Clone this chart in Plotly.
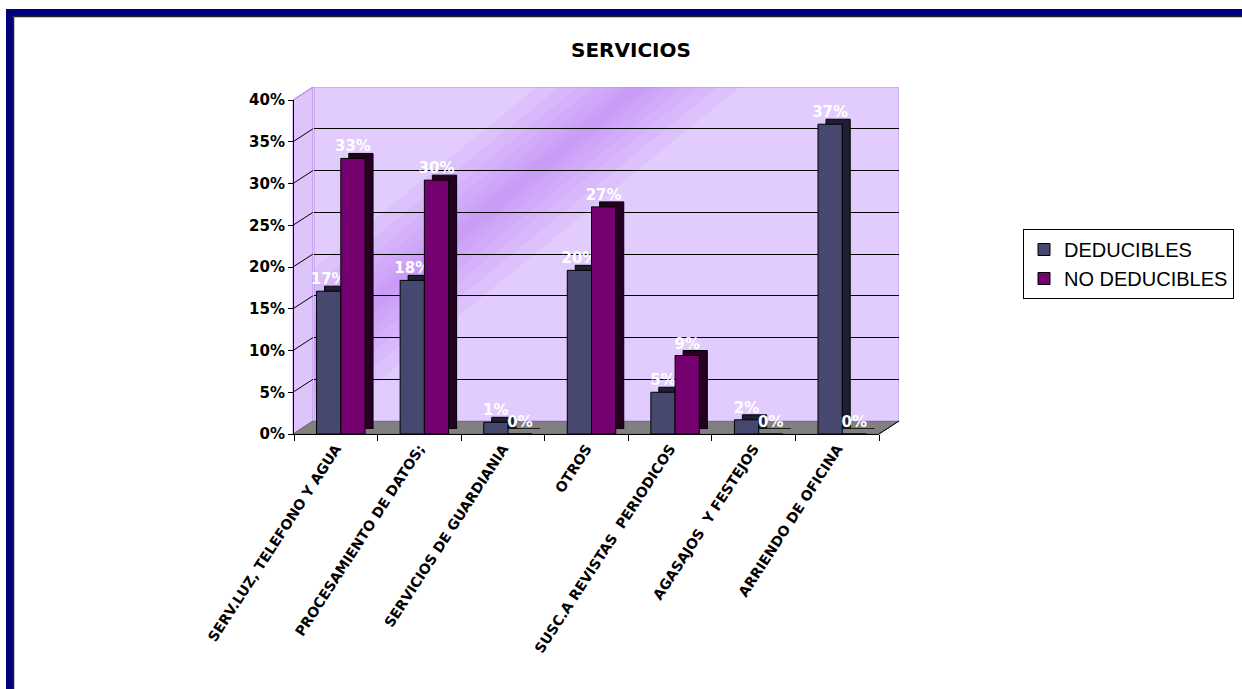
import math
import plotly.graph_objects as go

# ---------------- data ----------------
categories = [
    "SERV.LUZ, TELEFONO Y AGUA",
    "PROCESAMIENTO DE DATOS;",
    "SERVICIOS DE GUARDIANIA",
    "OTROS",
    "SUSC.A REVISTAS  PERIODICOS",
    "AGASAJOS  Y FESTEJOS",
    "ARRIENDO DE OFICINA",
]
deducibles = [0.171, 0.184, 0.014, 0.196, 0.050, 0.017, 0.371]
no_deducibles = [0.330, 0.304, 0.0, 0.272, 0.094, 0.0, 0.0]
series_names = ["DEDUCIBLES", "NO DEDUCIBLES"]
y_ticks = [0, 0.05, 0.10, 0.15, 0.20, 0.25, 0.30, 0.35, 0.40]
title_text = "SERVICIOS"

# ---------------- geometry / style ----------------
W, H = 1242, 689
def px(x):
    return x / W
def py(y):
    return 1 - y / H

C_BLUE = "#46486F"
C_PURP = "#750070"
S_BLUE = "#1F1F33"
S_PURP = "#260022"
WALL = "#E2CBFD"
BOLD = "DejaVu Sans"

bar_w = 0.29
offsets = [-0.23, 0.06]

# front axes (C) domain in pixels
FX0, FX1, FY0, FY1 = 294, 879, 434, 100
# depth shift of the back wall
DX, DY = 20, 13
# shadow (bar side) shift
SX, SY = 8, 5

fig = go.Figure()

# invisible trace to create the back wall subplot (A)
fig.add_trace(go.Scatter(x=[0, 1], y=[0, 40], mode="markers", marker=dict(opacity=0),
                         hoverinfo="skip", showlegend=False, xaxis="x", yaxis="y"))

# shadow bars (B) -> pseudo 3D depth
for vals, col, off in [(deducibles, S_BLUE, offsets[0]), (no_deducibles, S_PURP, offsets[1])]:
    fig.add_trace(go.Bar(x=categories, y=vals, width=bar_w, offset=off,
                         marker=dict(color=col, line=dict(color="black", width=1)),
                         showlegend=False, hoverinfo="skip", xaxis="x2", yaxis="y2"))

# front bars (C)
for name, vals, col, off in [(series_names[0], deducibles, C_BLUE, offsets[0]),
                             (series_names[1], no_deducibles, C_PURP, offsets[1])]:
    fig.add_trace(go.Bar(x=categories, y=vals, width=bar_w, offset=off, name=name,
                         marker=dict(color=col, line=dict(color="black", width=1)),
                         texttemplate="%{y:.0%}", textposition="outside",
                         constraintext="none", cliponaxis=False,
                         textfont=dict(family=BOLD, size=15, color="white", weight="bold"),
                         xaxis="x3", yaxis="y3"))

shapes = []
# back wall + diagonal light streak (subplot A, clipped)
shapes.append(dict(type="rect", xref="x", yref="y", x0=0, x1=1, y0=0, y1=40,
                   fillcolor=WALL, line=dict(color="#B892EE", width=1), layer="below"))
wall_w = (FX1 + DX) - (FX0 + DX)
ppu = (FY0 - FY1) / 40.0
dxl, dyl = 317.0, 258.0
nrm = math.hypot(dxl, dyl)
d = (dxl / nrm, dyl / nrm)
n = (-d[1], d[0])
c0 = (0.0, 70.0)
for w in [64, 50, 38, 28, 19, 11, 5]:
    pts = []
    for s, sgn in [(-500, 1), (900, 1), (900, -1), (-500, -1)]:
        pxp = c0[0] + s * d[0] + sgn * w * n[0]
        pyp = c0[1] + s * d[1] + sgn * w * n[1]
        pts.append((pxp / wall_w, pyp / ppu))
    path = "M " + " L ".join(f"{a:.4f},{b:.4f}" for a, b in pts) + " Z"
    shapes.append(dict(type="path", xref="x", yref="y", path=path,
                       fillcolor="rgba(190,135,250,0.14)", line=dict(width=0), layer="below"))

# left side wall
lw = f"M {px(FX0-1)},{py(FY0)} L {px(FX0-1)},{py(FY1)} L {px(FX0-1+DX)},{py(FY1-DY)} L {px(FX0-1+DX)},{py(FY0-DY)} Z"
shapes.append(dict(type="path", xref="paper", yref="paper", path=lw,
                   fillcolor="#DDC4FB", line=dict(color="#B48AE6", width=1), layer="below"))
# floor
fl = f"M {px(FX0-1)},{py(FY0)} L {px(FX0-1+DX)},{py(FY0-DY)} L {px(FX1+DX)},{py(FY0-DY)} L {px(FX1)},{py(FY0)} Z"
shapes.append(dict(type="path", xref="paper", yref="paper", path=fl,
                   fillcolor="#808080", line=dict(color="#6a6a6a", width=1), layer="below"))
# x-axis depth end line
shapes.append(dict(type="line", xref="paper", yref="paper", x0=px(FX1), y0=py(FY0),
                   x1=px(FX1 + DX), y1=py(FY0 - DY), line=dict(color="black", width=1)))
# tick connectors from y axis to the back wall
for v in y_ticks[1:]:
    yy = FY0 - v * 100 * ppu
    col = "#B48AE6" if v >= 0.399 else "black"
    shapes.append(dict(type="line", xref="paper", yref="paper", x0=px(FX0 - 1), y0=py(yy),
                       x1=px(FX0 - 1 + DX), y1=py(yy - DY), line=dict(color=col, width=1),
                       layer="below"))

# navy frame
shapes.append(dict(type="rect", xref="paper", yref="paper", x0=px(6), x1=1.0, y0=py(16), y1=py(9),
                   fillcolor="#000080", line=dict(width=0)))
shapes.append(dict(type="rect", xref="paper", yref="paper", x0=px(6), x1=px(13), y0=0, y1=py(9),
                   fillcolor="#000080", line=dict(width=0)))
shapes.append(dict(type="line", xref="paper", yref="paper", x0=px(13.5), x1=1.0, y0=py(16.5), y1=py(16.5),
                   line=dict(color="#222222", width=1.5)))
shapes.append(dict(type="line", xref="paper", yref="paper", x0=px(13.5), x1=px(13.5), y0=0, y1=py(16.5),
                   line=dict(color="#222222", width=1.5)))

hidden = dict(visible=False, fixedrange=True)

fig.update_layout(
    width=W, height=H,
    margin=dict(l=0, r=0, t=0, b=0, pad=0),
    paper_bgcolor="white", plot_bgcolor="rgba(0,0,0,0)",
    barmode="overlay",
    showlegend=True,
    title=dict(text=title_text, x=631 / W, y=py(50), xanchor="center", yanchor="middle",
               font=dict(family=BOLD, size=20, color="black", weight="bold")),
    # A: back wall
    xaxis=dict(domain=[px(FX0 + DX), px(FX1 + DX)], range=[0, 1], showgrid=False,
               showticklabels=False, zeroline=False, ticks="", showline=False, anchor="y"),
    yaxis=dict(domain=[py(FY0 - DY), py(FY1 - DY)], range=[0, 40], tickvals=[5, 10, 15, 20, 25, 30, 35],
               showgrid=True, gridcolor="black", gridwidth=1, showticklabels=False,
               zeroline=False, ticks="", showline=False, anchor="x"),
    # B: shadows
    xaxis2=dict(domain=[px(FX0 + SX), px(FX1 + SX)], type="category", categoryorder="array",
                categoryarray=categories, range=[-0.5, 6.5], anchor="y2", **hidden),
    yaxis2=dict(domain=[py(FY0 - SY), py(FY1 - SY)], range=[0, 0.40], anchor="x2", **hidden),
    # C: front
    xaxis3=dict(domain=[px(FX0), px(FX1)], type="category", categoryorder="array",
                categoryarray=categories, range=[-0.5, 6.5], anchor="y3",
                showline=True, linecolor="black", linewidth=1, ticks="outside",
                tickson="boundaries", ticklen=6, tickcolor="black", tickangle=-57,
                showgrid=False, zeroline=False, automargin=False,
                tickfont=dict(family=BOLD, size=14, color="black", weight="bold")),
    yaxis3=dict(domain=[py(FY0), py(FY1)], range=[0, 0.40], anchor="x3",
                tickvals=y_ticks, tickformat=".0%", showline=True, linecolor="black",
                linewidth=1, ticks="outside", ticklen=5, tickcolor="black",
                showgrid=False, zeroline=False, automargin=False,
                tickfont=dict(family=BOLD, size=15, color="black", weight="bold")),
    legend=dict(x=px(1023), y=py(229), xanchor="left", yanchor="top",
                bordercolor="black", borderwidth=1, bgcolor="white",
                itemwidth=30, tracegroupgap=0,
                font=dict(family="Liberation Sans", size=20, color="black"),
                traceorder="normal"),
    shapes=shapes,
)

fig.write_html("out.html", config={"displayModeBar": False},
               post_script="document.body.style.margin='0';")
